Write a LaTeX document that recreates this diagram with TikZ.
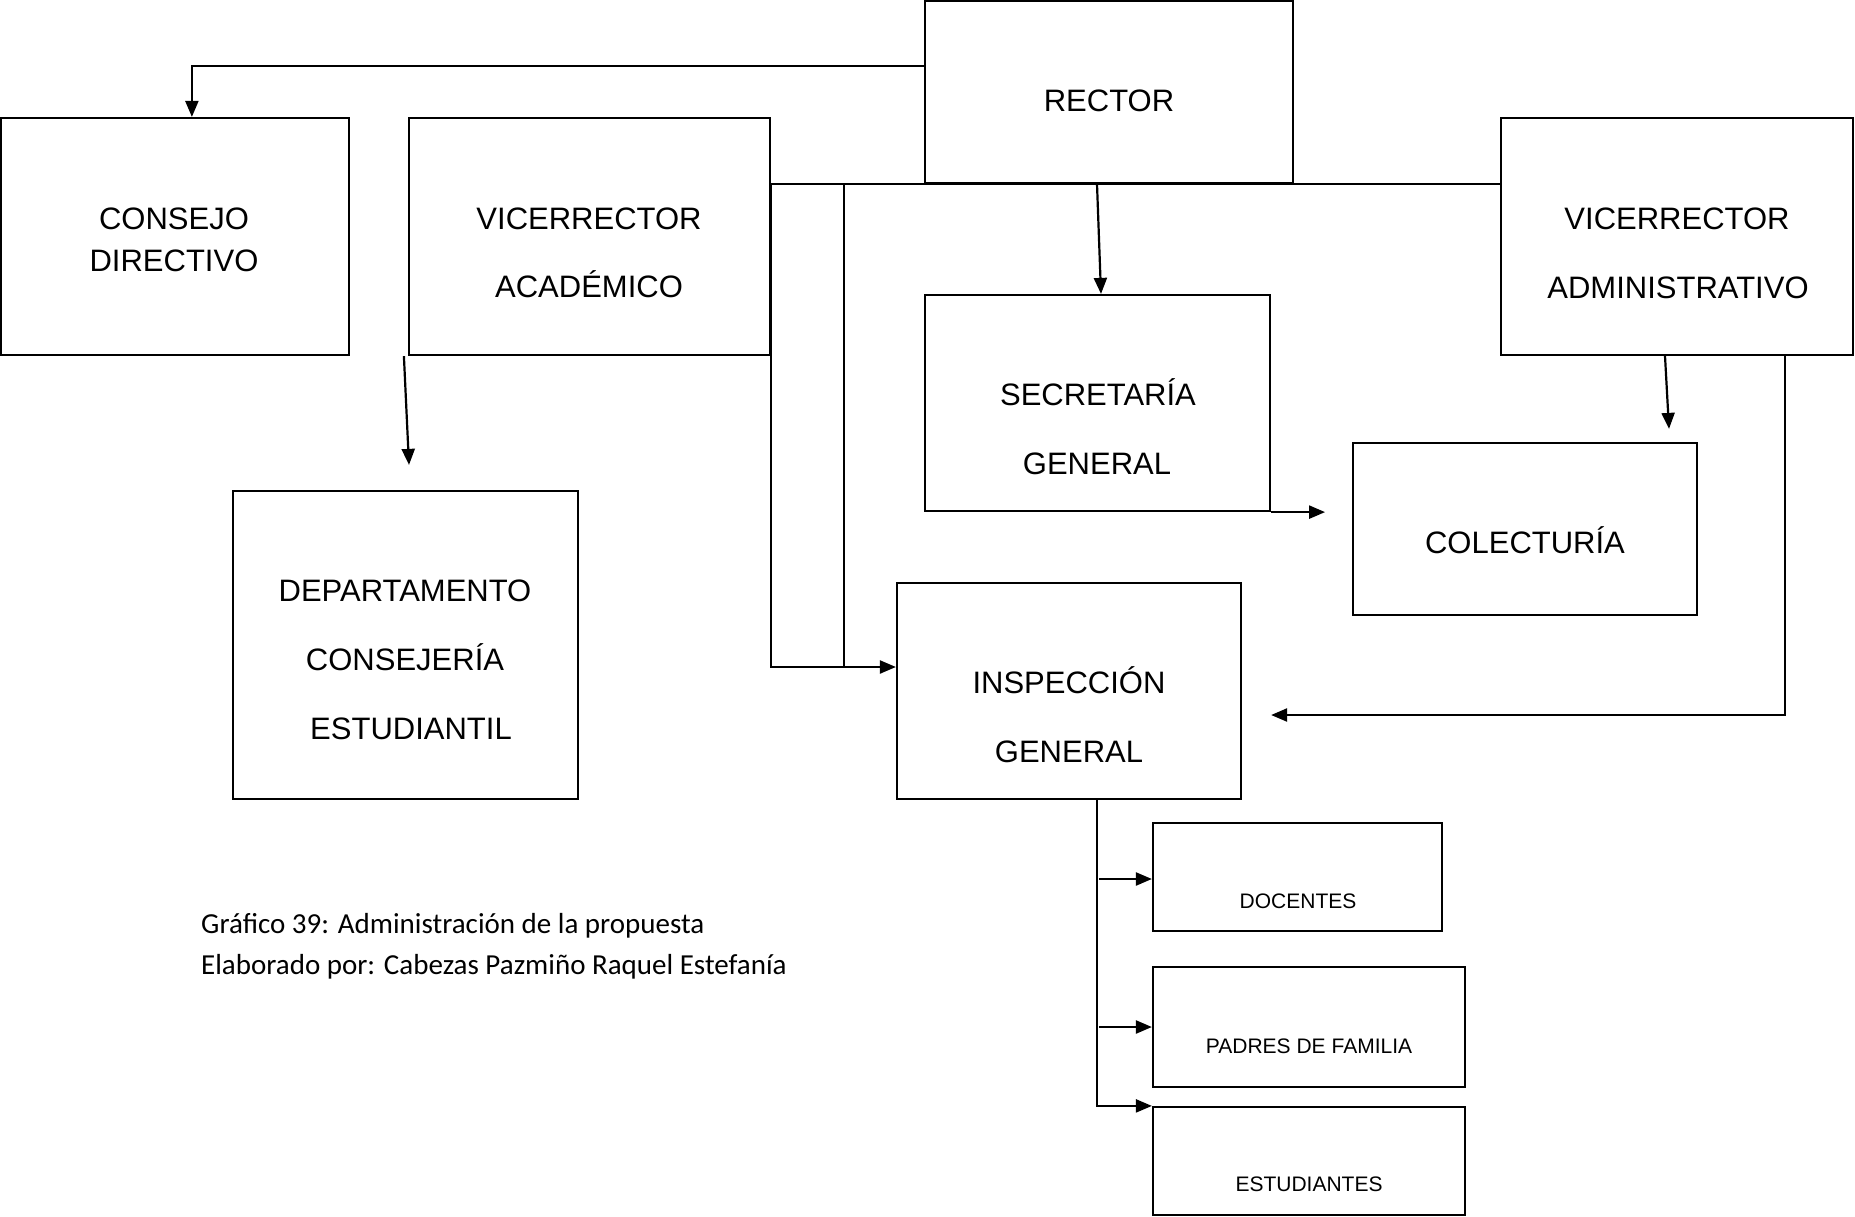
\documentclass[tikz,border=0pt]{standalone}
\usepackage{fontspec}
\setmainfont{Liberation Sans}
\newfontfamily\capfont{Carlito}
\usetikzlibrary{arrows.meta,calc}
\begin{document}
\begin{tikzpicture}[x=1pt,y=-1pt,
  box/.style={draw,line width=2.2pt,inner sep=0pt,rectangle},
  lbl/.style={font=\fontsize{31}{37}\selectfont,anchor=base,inner sep=0pt},
  slbl/.style={font=\fontsize{21}{25}\selectfont,anchor=base,inner sep=0pt},
  captext/.style={font=\capfont\fontsize{29}{35}\selectfont,anchor=base west,inner sep=0pt},
  con/.style={line width=2.2pt},
  arr/.style={line width=2.2pt,-{Triangle[length=16pt,width=13pt]}}]
\useasboundingbox (0,0) rectangle (1855,1216);
\fill[white] (0,0) rectangle (1855,1216);
% boxes
\node[box,minimum width=368pt,minimum height=182pt] (rector) at (1109,92) {};
\node[box,minimum width=348pt,minimum height=237pt] (consejo) at (175,236.5) {};
\node[box,minimum width=361pt,minimum height=237pt] (vacad) at (589.5,236.5) {};
\node[box,minimum width=352pt,minimum height=237pt] (vadmin) at (1677,236.5) {};
\node[box,minimum width=345pt,minimum height=216pt] (secre) at (1097.5,403) {};
\node[box,minimum width=344pt,minimum height=172pt] (colec) at (1525,529) {};
\node[box,minimum width=344pt,minimum height=216pt] (insp) at (1069,691) {};
\node[box,minimum width=345pt,minimum height=308pt] (dept) at (405.5,645) {};
\node[box,minimum width=289pt,minimum height=108pt] (doc) at (1297.5,877) {};
\node[box,minimum width=312pt,minimum height=120pt] (padres) at (1309,1027) {};
\node[box,minimum width=312pt,minimum height=108pt] (estud) at (1309,1161) {};
% texts
\node[lbl] (t1) at (1109,111) {RECTOR};
\node[lbl] (t2) at (174,229) {CONSEJO};
\node[lbl] (t3) at (174,271) {DIRECTIVO};
\node[lbl] (t4) at (589,229) {VICERRECTOR};
\node[lbl] (t5) at (589,297) {ACADÉMICO};
\node[lbl] (t6) at (1677,229) {VICERRECTOR};
\node[lbl] (t7) at (1678,298) {ADMINISTRATIVO};
\node[lbl] (t8) at (1098,405) {SECRETARÍA};
\node[lbl] (t9) at (1097,474) {GENERAL};
\node[lbl] (t10) at (1525,553) {COLECTURÍA};
\node[lbl] (t11) at (1069,693) {INSPECCIÓN};
\node[lbl] (t12) at (1069,762) {GENERAL};
\node[lbl] (t13) at (405,601) {DEPARTAMENTO};
\node[lbl] (t14) at (405,670) {CONSEJERÍA};
\node[lbl] (t15) at (411,739) {ESTUDIANTIL};
\node[slbl] (t16) at (1298,908.5) {DOCENTES};
\node[slbl] (t17) at (1309,1053.5) {PADRES DE FAMILIA};
\node[slbl] (t18) at (1309,1191.5) {ESTUDIANTES};
\node[captext] (c1) at (201,933) {Gráfico 39: Administración de la propuesta};
\node[captext] (c2) at (201,974) {Elaborado por: Cabezas Pazmiño Raquel Estefanía};
% connectors
\coordinate (iin) at ($(insp.west)+(0,-24)$);
\coordinate (j1) at ($(iin)+(-52,0)$);
\coordinate (sgend) at ($(secre.south east)+(54,0)$);
\draw[arr] ($(rector.north west)+(0,66)$) -| ($(consejo.north west)+(192,0)$);
\draw[con] (vacad.east |- rector.south) -- (vadmin.west |- rector.south);
\draw[arr] (vacad.east |- rector.south) |- (iin);
\draw[con] (j1) -- (j1 |- rector.south);
\draw[arr] ($(rector.south)+(-12,0)$) -- ($(secre.north)+(3.5,0)$);
\draw[arr] (secre.south east) -- (sgend);
\draw[arr] ($(vadmin.south)+(-12,0)$) -- ($(colec.north)+(144,-13)$);
\draw[arr] ($(vadmin.south)+(108,0)$) |- ($(insp.east)+(29,24)$);
\draw[arr] ($(vacad.south west)+(-4,0)$) -- ($(dept.north)+(3.5,-25)$);
\draw[arr] ($(insp.south)+(28,0)$) |- (estud.north west);
\draw[arr] ($(doc.west)+(-53,2)$) -- ($(doc.west)+(0,2)$);
\draw[arr] ($(padres.west)+(-53,0)$) -- (padres.west);
\end{tikzpicture}
\end{document}
